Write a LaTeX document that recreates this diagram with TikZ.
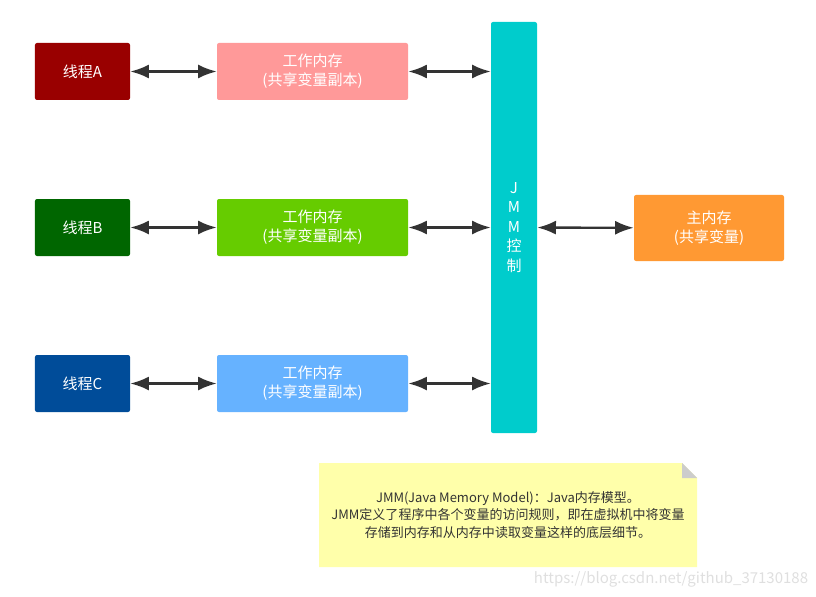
\documentclass[tikz,border=0pt]{standalone}
\usepackage{fontspec}
\setmainfont{Noto Sans CJK SC}
\usetikzlibrary{positioning,arrows.meta}
\definecolor{threadA}{HTML}{990000}
\definecolor{threadB}{HTML}{006600}
\definecolor{threadC}{HTML}{004C99}
\definecolor{workA}{HTML}{FF9999}
\definecolor{workB}{HTML}{66CC00}
\definecolor{workC}{HTML}{66B2FF}
\definecolor{jmmcyan}{HTML}{00CCCC}
\definecolor{mainorange}{HTML}{FF9933}
\definecolor{noteyellow}{HTML}{FFFFAA}
\definecolor{notefold}{HTML}{CCCCCC}
\definecolor{arrowgray}{HTML}{333333}

\begin{document}
\begin{tikzpicture}[x=0.03cm, y=-0.03cm, node distance = 4.68cm and 6.9cm, on grid,
box/.style ={rectangle, rounded corners=0.06cm, text=white, inner sep=0pt, align=center, font=\fontsize{12.8}{16.2}\selectfont},
thread/.style ={box, minimum width=2.85cm, minimum height=1.71cm},
work/.style ={box, minimum width=5.73cm, minimum height=1.71cm},
link/.style ={{Latex[length=16pt,width=12pt]}-{Latex[length=16pt,width=12pt]}, line width=2pt, draw=arrowgray}]
\useasboundingbox (0,0) rectangle (816,597);
\node[thread, fill=threadA] (tA) at (82.5,71.5) {线程A};
\node[thread, fill=threadB] (tB) [below = of tA] {线程B};
\node[thread, fill=threadC] (tC) [below = of tB] {线程C};
\node[work, fill=workA] (wA) [right = of tA] {工作内存\\(共享变量副本)};
\node[work, fill=workB] (wB) [right = of tB] {工作内存\\(共享变量副本)};
\node[work, fill=workC] (wC) [right = of tC] {工作内存\\(共享变量副本)};
\node[box, fill=jmmcyan, minimum width=1.38cm, minimum height=12.33cm,
      font=\fontsize{12.8}{16.6}\selectfont] (jmm) at (514,227.5) {J\\M\\M\\控\\制};
\node[box, fill=mainorange, minimum width=4.5cm, minimum height=1.98cm] (mem) at (709,228) {主内存\\(共享变量)};

% note with folded corner
\fill[noteyellow] (319,463) -- (682,463) -- (697,478) -- (697,567) -- (319,567) -- cycle;
\fill[notefold] (682,463) -- (682,478) -- (697,478) -- cycle;
\node[align=center, text=arrowgray, font=\fontsize{11.1}{14.9}\selectfont] (note) at (508,515)
  {JMM(Java Memory Model)：Java内存模型。\\JMM定义了程序中各个变量的访问规则，即在虚拟机中将变量\\存储到内存和从内存中读取变量这样的底层细节。};
\node[text=gray!25, font=\fontsize{12.8}{15}\selectfont] (mark) at (671,579) {https://blog.csdn.net/github\_37130188};

\path (tA) edge[link] (wA)
      (tB) edge[link] (wB)
      (tC) edge[link] (wC)
      (wA.east) edge[link] (wA.east -| jmm.west)
      (wB.east) edge[link] (wB.east -| jmm.west)
      (wC.east) edge[link] (wC.east -| jmm.west)
      (jmm) edge[link] (mem);
\end{tikzpicture}
\end{document}
